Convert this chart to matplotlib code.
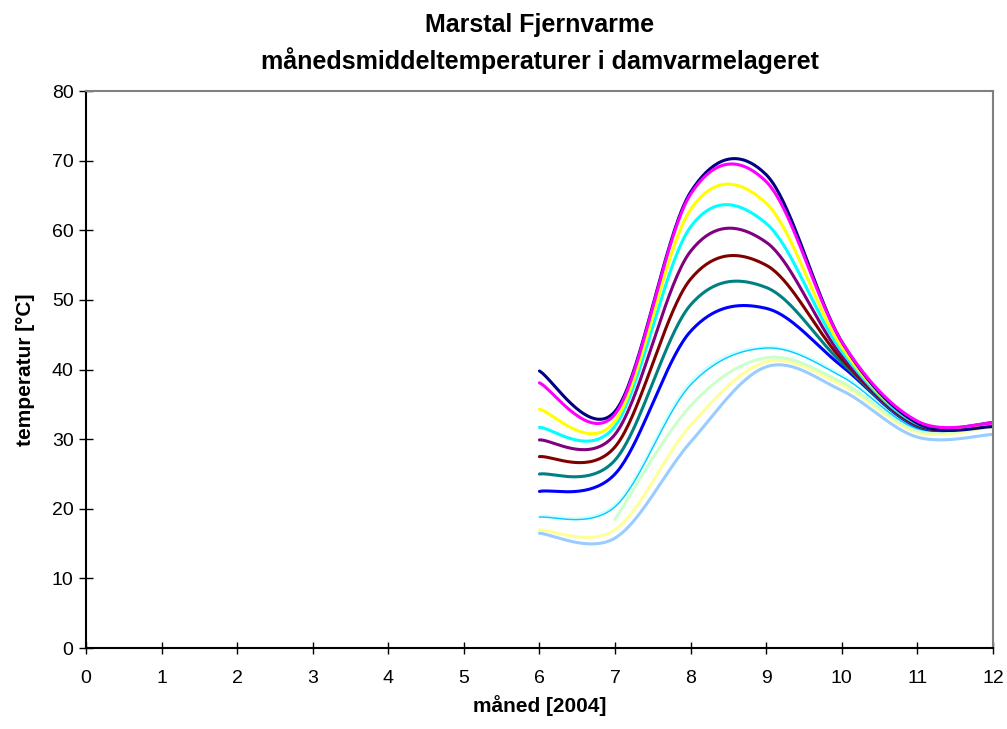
import numpy as np
import matplotlib.pyplot as plt

plt.rcParams['font.family'] = ['Liberation Sans', 'DejaVu Sans']

# måned 6..12 (juni - december 2004)
maaned = [6, 7, 8, 9, 10, 11, 12]

navy = [39.8, 34.0, 65.5, 68.0, 44.0, 32.3, 31.8]
magenta = [38.1, 33.6, 65.2, 67.0, 44.0, 32.6, 32.3]
gul = [34.3, 32.6, 63.0, 63.9, 43.2, 32.4, 32.1]
cyan = [31.7, 31.9, 60.5, 61.0, 42.6, 32.2, 32.3]
lilla = [29.9, 30.7, 57.0, 58.3, 42.0, 32.2, 32.4]
moerkroed = [27.5, 28.9, 53.0, 55.0, 41.5, 32.0, 32.1]
teal = [25.0, 27.0, 49.3, 51.8, 41.0, 31.9, 32.2]
blaa = [22.5, 25.0, 45.5, 48.8, 40.5, 31.8, 32.1]
himmelblaa = [18.8, 20.3, 37.8, 43.1, 39.0, 31.5, 32.3]
lysturkis = [18.9, 20.5, 38.1, 43.2, 39.2, 31.6, 32.4]
lysgroen = [None, 18.5, 34.8, 41.7, 38.2, 31.3, 32.0]
lysgul = [17.0, 17.0, 32.0, 41.1, 37.8, 31.0, 31.8]
lysblaa = [16.5, 15.8, 29.6, 40.4, 37.0, 30.3, 30.7]

serier = [
    (lysblaa, "#99CCFF", 2.2),
    (lysgul, "#FFFF99", 2.2),
    (lysgroen, "#CCFFCC", 2.2),
    (lysturkis, "#CCFFFF", 2.4),
    (himmelblaa, "#00CCFF", 1.0),
    (blaa, "#0000FF", 2.2),
    (teal, "#008080", 2.2),
    (moerkroed, "#800000", 2.2),
    (lilla, "#800080", 2.2),
    (cyan, "#00FFFF", 2.2),
    (gul, "#FFFF00", 2.2),
    (navy, "#000080", 2.2),
    (magenta, "#FF00FF", 2.2),
]


def glat(x, y, n=40):
    # Excel-agtig udglatning (Bezier med 1/6 af naboforskel)
    x = np.asarray(x, float)
    y = np.asarray(y, float)
    xs, ys = [], []
    m = len(x)
    for i in range(m - 1):
        x0, y0 = x[max(i - 1, 0)], y[max(i - 1, 0)]
        x3, y3 = x[min(i + 2, m - 1)], y[min(i + 2, m - 1)]
        c1x = x[i] + (x[i + 1] - x0) / 6
        c1y = y[i] + (y[i + 1] - y0) / 6
        c2x = x[i + 1] - (x3 - x[i]) / 6
        c2y = y[i + 1] - (y3 - y[i]) / 6
        t = np.linspace(0, 1, n)
        bx = (1 - t) ** 3 * x[i] + 3 * (1 - t) ** 2 * t * c1x + 3 * (1 - t) * t ** 2 * c2x + t ** 3 * x[i + 1]
        by = (1 - t) ** 3 * y[i] + 3 * (1 - t) ** 2 * t * c1y + 3 * (1 - t) * t ** 2 * c2y + t ** 3 * y[i + 1]
        xs.extend(bx)
        ys.extend(by)
    return np.array(xs), np.array(ys)


fig = plt.figure(figsize=(10.07, 7.29), dpi=100)
ax = fig.add_axes([0.0854, 0.111, 0.9006, 0.764])

for vals, farve, lw in serier:
    xx = [m for m, v in zip(maaned, vals) if v is not None]
    yy = [v for v in vals if v is not None]
    sx, sy = glat(xx, yy)
    ax.plot(sx, sy, color=farve, lw=lw, solid_capstyle='round')

ax.set_xlim(0, 12)
ax.set_ylim(0, 80)
ax.set_xticks(range(0, 13))
ax.set_yticks(range(0, 81, 10))
ax.tick_params(axis='x', direction='inout', length=9, width=1, labelsize=14, pad=11)
ax.tick_params(axis='y', direction='inout', length=10, width=1, labelsize=14, pad=4)

ax.spines['left'].set_color('black')
ax.spines['bottom'].set_color('black')
ax.spines['top'].set_color('#808080')
ax.spines['right'].set_color('#808080')
for s in ax.spines.values():
    s.set_linewidth(1.5)

ax.set_xlabel("måned [2004]", fontsize=15, fontweight='bold', labelpad=6)
ax.set_ylabel("temperatur [°C]", fontsize=15, fontweight='bold', labelpad=12)
ax.set_title("Marstal Fjernvarme\nmånedsmiddeltemperaturer i damvarmelageret",
             fontsize=18, fontweight='bold', pad=16, linespacing=1.45)

fig.savefig("out.png", dpi=100)
